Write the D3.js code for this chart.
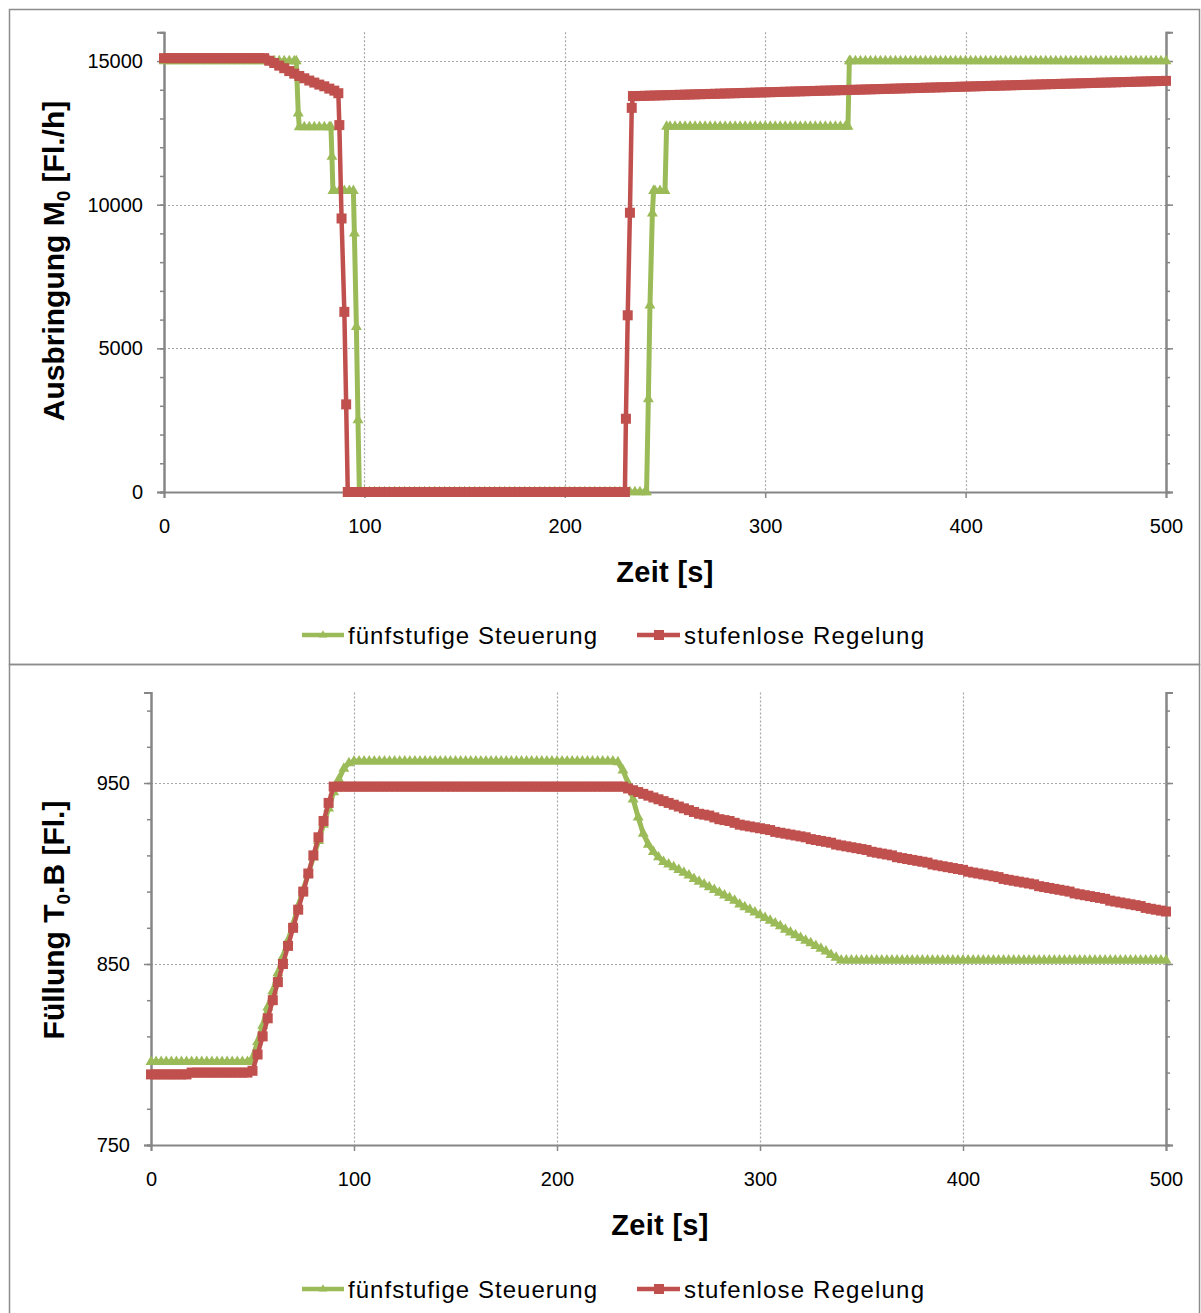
<!DOCTYPE html>
<html><head><meta charset="utf-8">
<script src="https://cdn.jsdelivr.net/npm/d3@7"></script>
<style>
body{margin:0;background:#fff;}
svg text{font-family:"Liberation Sans", Arial, sans-serif;fill:#000;}
</style></head><body>
<svg id="chart" width="1201" height="1313"></svg>
<script>
// ---------- tick values ----------
const timeTicks = [0, 100, 200, 300, 400, 500];
const outputTicks = [0, 5000, 10000, 15000];
const fillTicks = [750, 850, 950];

// ---------- sample times [s] (2.5 s logging interval) ----------
const sampleTimes = [
  0,2.5,5,7.5,10,12.5,15,17.5,20,22.5,25,27.5,30,32.5,35,37.5,40,42.5,45,47.5,
  50,52.5,55,57.5,60,62.5,65,67.5,70,72.5,75,77.5,80,82.5,85,87.5,90,92.5,95,97.5,
  100,102.5,105,107.5,110,112.5,115,117.5,120,122.5,125,127.5,130,132.5,135,137.5,140,142.5,145,147.5,
  150,152.5,155,157.5,160,162.5,165,167.5,170,172.5,175,177.5,180,182.5,185,187.5,190,192.5,195,197.5,
  200,202.5,205,207.5,210,212.5,215,217.5,220,222.5,225,227.5,230,232.5,235,237.5,240,242.5,245,247.5,
  250,252.5,255,257.5,260,262.5,265,267.5,270,272.5,275,277.5,280,282.5,285,287.5,290,292.5,295,297.5,
  300,302.5,305,307.5,310,312.5,315,317.5,320,322.5,325,327.5,330,332.5,335,337.5,340,342.5,345,347.5,
  350,352.5,355,357.5,360,362.5,365,367.5,370,372.5,375,377.5,380,382.5,385,387.5,390,392.5,395,397.5,
  400,402.5,405,407.5,410,412.5,415,417.5,420,422.5,425,427.5,430,432.5,435,437.5,440,442.5,445,447.5,
  450,452.5,455,457.5,460,462.5,465,467.5,470,472.5,475,477.5,480,482.5,485,487.5,490,492.5,495,497.5,
  500];

// ---------- Ausbringung M0 [Fl./h] : fünfstufige Steuerung ----------
const outStepValues = [
  15000,15000,15000,15000,15000,15000,15000,15000,15000,15000,15000,15000,15000,15000,15000,15000,15000,15000,15000,15000,
  15000,15000,15000,15000,15000,15000,15000,12700,12700,12700,12700,12700,12700,12700,10480,10480,10480,10480,9000,0,
  0,0,0,0,0,0,0,0,0,0,0,0,0,0,0,0,0,0,0,0,
  0,0,0,0,0,0,0,0,0,0,0,0,0,0,0,0,0,0,0,0,
  0,0,0,0,0,0,0,0,0,0,0,0,0,0,0,0,0,6500,10480,10480,
  10480,12720,12720,12720,12720,12720,12720,12720,12720,12720,12720,12720,12720,12720,12720,12720,12720,12720,12720,12720,
  12720,12720,12720,12720,12720,12720,12720,12720,12720,12720,12720,12720,12720,12720,12720,12720,12720,15000,15000,15000,
  15000,15000,15000,15000,15000,15000,15000,15000,15000,15000,15000,15000,15000,15000,15000,15000,15000,15000,15000,15000,
  15000,15000,15000,15000,15000,15000,15000,15000,15000,15000,15000,15000,15000,15000,15000,15000,15000,15000,15000,15000,
  15000,15000,15000,15000,15000,15000,15000,15000,15000,15000,15000,15000,15000,15000,15000,15000,15000,15000,15000,15000,
  15000];
// extra samples logged during the switching steps [t, value]
const outStepSwitching = [[66,15000],[67,13180],[83.3,12700],[83.8,11670],[84.3,10480],[94.5,10480],[96,5750],[96.8,2500],
  [240.8,0],[241.7,3230],[243.7,9700],[244.3,10480],[250.8,12720],[341.3,12720],[342,15000]];

// ---------- Ausbringung M0 [Fl./h] : stufenlose Regelung ----------
const outContValues = [
  15100,15100,15100,15100,15100,15100,15100,15100,15100,15100,15100,15100,15100,15100,15100,15100,15100,15100,15100,15100,
  15100,15010,14930,14840,14750,14650,14560,14480,14400,14320,14250,14180,14120,14040,13970,12770,6270,0,0,0,
  0,0,0,0,0,0,0,0,0,0,0,0,0,0,0,0,0,0,0,0,
  0,0,0,0,0,0,0,0,0,0,0,0,0,0,0,0,0,0,0,0,
  0,0,0,0,0,0,0,0,0,0,0,0,0,9720,13780,13785,13790,13795,13800,13805,
  13810,13815,13820,13825,13830,13835,13840,13845,13850,13855,13860,13865,13870,13875,13880,13885,13890,13895,13900,13905,
  13910,13915,13920,13925,13930,13935,13940,13945,13950,13955,13960,13965,13970,13975,13980,13985,13990,13995,14000,14005,
  14010,14015,14020,14025,14030,14035,14040,14045,14050,14055,14060,14065,14070,14075,14080,14085,14090,14095,14100,14105,
  14110,14115,14120,14125,14130,14135,14140,14145,14150,14155,14160,14165,14170,14175,14180,14185,14190,14195,14200,14205,
  14210,14215,14220,14225,14230,14235,14240,14245,14250,14255,14260,14265,14270,14275,14280,14285,14290,14295,14300,14305,
  14310];
const outContSwitching = [[87,13880],[88.6,9520],[90.9,3050],[91.7,0],
  [230.5,2550],[231.4,6150],[233.4,13370],[234,13780]];

// ---------- Füllung T0.B [Fl.] : fünfstufige Steuerung ----------
const fillStepValues = [
  796,796,796,796,796,796,796,796,796,796,796,796,796,796,796,796,796,796,796,796,
  798,807,816,826,835,845,854,863,872,882,891,900,909,918,927,936,945,952,958,961,
  962,962,962,962,962,962,962,962,962,962,962,962,962,962,962,962,962,962,962,962,
  962,962,962,962,962,962,962,962,962,962,962,962,962,962,962,962,962,962,962,962,
  962,962,962,962,962,962,962,962,962,962,962,962,961.5,957,950,941,931,922,916,912,
  909,906.5,905,903.5,902,900.5,899,897,895.5,894,892.5,891,889.5,888,886.5,885,883,881.5,880,878.5,
  877,875.5,874,872.5,871,869,867.5,866,864.5,863,861.5,860,858.5,857,855,853.5,852,852,852,852,
  852,852,852,852,852,852,852,852,852,852,852,852,852,852,852,852,852,852,852,852,
  852,852,852,852,852,852,852,852,852,852,852,852,852,852,852,852,852,852,852,852,
  852,852,852,852,852,852,852,852,852,852,852,852,852,852,852,852,852,852,852,852,
  852];
const fillStepSwitching = [[49.5,796]];

// ---------- Füllung T0.B [Fl.] : stufenlose Regelung ----------
const fillContValues = [
  789,789,789,789,789,789,789,789,790,790,790,790,790,790,790,790,790,790,790,790,
  791,800,810,820,830,840,850,860,870,880,890,900,910,920,929,939,948,948,948,948,
  948,948,948,948,948,948,948,948,948,948,948,948,948,948,948,948,948,948,948,948,
  948,948,948,948,948,948,948,948,948,948,948,948,948,948,948,948,948,948,948,948,
  948,948,948,948,948,948,948,948,948,948,948,948,948,948,947,946,945,944,943,942,
  941,940,939,938,937,936,935,934,933,932.5,932,931,930,929.5,929,928,927,926.5,926,925.5,
  925,924.5,924,923,922.5,922,921.5,921,920.5,920,919,918.5,918,917.5,917,916,915.5,915,914.5,914,
  913.5,913,912,911.5,911,910.5,910,909,908.5,908,907.5,907,906.5,906,905,904.5,904,903.5,903,902.5,
  902,901,900.5,900,899.5,899,898.5,898,897,896.5,896,895.5,895,894.5,894,893,892.5,892,891.5,891,
  890.5,890,889,888.5,888,887.5,887,886.5,886,885,884.5,884,883.5,883,882.5,882,881,880.5,880,879.5,
  879];
const fillContSwitching = [];

const seriesNames = ["fünfstufige Steuerung", "stufenlose Regelung"];
const green = "#9BBB59", red = "#C0504D", axisGray = "#868686", gridGray = "#a6a6a6";

const svg = d3.select("#chart");

// frames around the two chart areas
svg.append("rect").attr("x", 9.5).attr("y", 9.5).attr("width", 1190).attr("height", 655)
  .attr("fill", "none").attr("stroke", "#8c8c8c").attr("stroke-width", 1.5);
svg.append("rect").attr("x", 9.5).attr("y", 664.5).attr("width", 1190).attr("height", 660)
  .attr("fill", "none").attr("stroke", "#8c8c8c").attr("stroke-width", 1.5);

// merge the regular log with the extra switching samples, in time order
function series(values, extra) {
  const pts = sampleTimes.map((t, i) => [t, values[i]]).concat(extra);
  return pts.sort((a, b) => a[0] - b[0]);
}

function drawPanel(p) {
  const g = svg.append("g");
  const x = d3.scaleLinear().domain([0, 500]).range([p.left, p.right]);
  const y = d3.scaleLinear().domain(p.yDomain).range([p.bottom, p.top]);

  // horizontal dotted gridlines
  g.append("g").selectAll("line").data(p.yTicks.filter(v => v !== p.yDomain[0])).join("line")
    .attr("x1", p.left).attr("x2", p.right)
    .attr("y1", d => Math.round(y(d)) + 0.5).attr("y2", d => Math.round(y(d)) + 0.5)
    .attr("stroke", gridGray).attr("stroke-width", 1.2).attr("stroke-dasharray", "2,2");
  // vertical dotted gridlines
  g.append("g").selectAll("line").data(timeTicks.filter(t => t > 0 && t < 500)).join("line")
    .attr("x1", d => Math.round(x(d)) + 0.5).attr("x2", d => Math.round(x(d)) + 0.5)
    .attr("y1", p.top).attr("y2", p.bottom)
    .attr("stroke", gridGray).attr("stroke-width", 1.2).attr("stroke-dasharray", "2,2");

  // left axis with minor ticks
  const ga = g.append("g").attr("transform", `translate(${p.left},0)`);
  ga.call(d3.axisLeft(y).tickValues(p.yMinor).tickSize(4).tickFormat(""));
  ga.append("g").call(d3.axisLeft(y).tickValues(p.yTicks).tickSize(7).tickPadding(14).tickFormat(d3.format("d")));
  // right axis, no labels
  const gr = g.append("g").attr("transform", `translate(${p.right},0)`);
  gr.call(d3.axisRight(y).tickValues(p.yMinor).tickSize(4).tickFormat(""));
  gr.append("g").call(d3.axisRight(y).tickValues(p.yTicks).tickSize(7).tickFormat(""));
  // bottom axis
  const gx = g.append("g").attr("transform", `translate(0,${p.bottom})`);
  gx.call(d3.axisBottom(x).tickValues(timeTicks).tickSize(6).tickPadding(21).tickFormat(d3.format("d")));

  g.selectAll(".domain").attr("stroke", axisGray).attr("stroke-width", 2);
  g.selectAll(".tick line").attr("stroke", axisGray).attr("stroke-width", 1.5);
  g.selectAll(".tick text").attr("font-size", 20).attr("fill", "#000")
    .style("font-family", '"Liberation Sans", Arial, sans-serif');

  // series: line then markers
  const line = d3.line().x(d => x(d[0])).y(d => y(d[1]));
  const s1 = series(p.s1, p.s1x), s2 = series(p.s2, p.s2x);
  g.append("path").datum(s1).attr("d", line).attr("fill", "none")
    .attr("stroke", green).attr("stroke-width", 5).attr("stroke-linejoin", "round");
  g.append("g").selectAll("path").data(s1).join("path")
    .attr("d", d3.symbol(d3.symbolTriangle, 52))
    .attr("transform", d => `translate(${x(d[0])},${y(d[1])})`).attr("fill", green);
  g.append("path").datum(s2).attr("d", line).attr("fill", "none")
    .attr("stroke", red).attr("stroke-width", 4.5).attr("stroke-linejoin", "round");
  g.append("g").selectAll("rect").data(s2).join("rect")
    .attr("x", d => x(d[0]) - 5).attr("y", d => y(d[1]) - 5)
    .attr("width", 10).attr("height", 10).attr("fill", red);

  // axis titles
  g.append("text").attr("x", p.xTitleX).attr("y", p.xTitleY).attr("text-anchor", "middle")
    .attr("font-size", 29).attr("font-weight", "bold").attr("letter-spacing", 0.3).text("Zeit [s]");
  const yt = g.append("text").attr("transform", `translate(${p.yTitleX},${p.yTitleY}) rotate(-90)`)
    .attr("text-anchor", "middle").attr("font-size", 30).attr("font-weight", "bold");
  yt.append("tspan").text(p.yTitle[0]);
  yt.append("tspan").attr("font-size", 19).attr("dy", 6).text("0");
  yt.append("tspan").attr("dy", -6).text(p.yTitle[1]);

  // legend
  const leg = g.append("g").attr("transform", `translate(0,${p.legendY})`);
  leg.append("line").attr("x1", 302).attr("x2", 344).attr("stroke", green).attr("stroke-width", 4.5);
  leg.append("path").attr("d", d3.symbol(d3.symbolTriangle, 30)).attr("transform", "translate(323,0)").attr("fill", green);
  leg.append("text").attr("x", 348).attr("y", 8.5).attr("font-size", 24)
    .attr("textLength", 249).attr("lengthAdjust", "spacing").text(seriesNames[0]);
  leg.append("line").attr("x1", 637).attr("x2", 680).attr("stroke", red).attr("stroke-width", 4.5);
  leg.append("rect").attr("x", 654).attr("y", -5).attr("width", 10).attr("height", 10).attr("fill", red);
  leg.append("text").attr("x", 684).attr("y", 8.5).attr("font-size", 24)
    .attr("textLength", 240).attr("lengthAdjust", "spacing").text(seriesNames[1]);
}

drawPanel({
  left: 164, right: 1166, top: 32.3, bottom: 492,
  yDomain: [0, 16000], yTicks: outputTicks,
  yMinor: [0,1000,2000,3000,4000,5000,6000,7000,8000,9000,10000,11000,12000,13000,14000,15000,16000],
  s1: outStepValues, s1x: outStepSwitching, s2: outContValues, s2x: outContSwitching,
  xTitleX: 665, xTitleY: 582, yTitleX: 64, yTitleY: 261,
  yTitle: ["Ausbringung M", " [Fl./h]"], legendY: 635
});

drawPanel({
  left: 151, right: 1166, top: 692.5, bottom: 1145,
  yDomain: [750, 1000], yTicks: fillTicks,
  yMinor: [750,770,790,810,830,850,870,890,910,930,950,970,990],
  s1: fillStepValues, s1x: fillStepSwitching, s2: fillContValues, s2x: fillContSwitching,
  xTitleX: 660, xTitleY: 1235, yTitleX: 64, yTitleY: 920,
  yTitle: ["Füllung T", ".B [Fl.]"], legendY: 1289
});
</script>
</body></html>
